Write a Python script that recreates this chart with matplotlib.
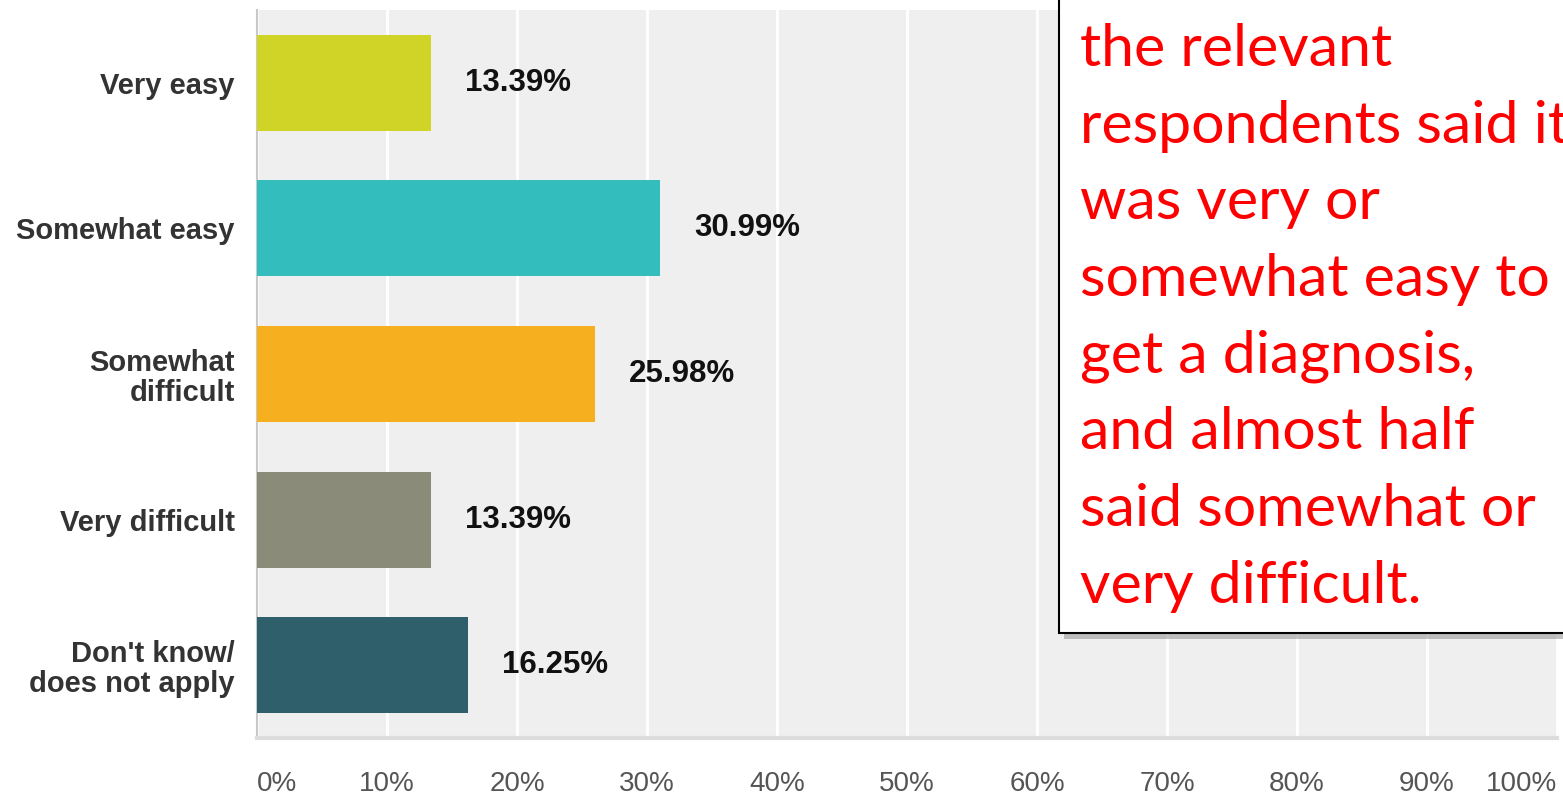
import matplotlib.pyplot as plt
from matplotlib.patches import Rectangle

# Survey answers (top to bottom)
categories = ['Very easy', 'Somewhat easy', 'Somewhat\ndifficult',
              'Very difficult', "Don't know/\ndoes not apply"]
values = [13.39, 30.99, 25.98, 13.39, 16.25]
colors = ['#cfd427', '#33bdbd', '#f6b01f', '#8b8b7a', '#2e5f6b']
tick_values = list(range(0, 101, 10))
tick_labels = [f'{t}%' for t in tick_values]
note_lines = ['the relevant', 'respondents said it', 'was very or',
              'somewhat easy to', 'get a diagnosis,', 'and almost half',
              'said somewhat or', 'very difficult.']

W, H = 1563, 796
fig = plt.figure(figsize=(W / 100, H / 100), dpi=100)
ax = fig.add_axes([257 / W, 1 - 738 / H, 1300 / W, 728 / H])
ax.set_facecolor('#efefef')

ypos = list(range(len(categories)))
ax.barh(ypos, values, height=0.66, color=colors, zorder=3)
ax.set_xlim(0, 100)
ax.set_ylim(len(categories) - 0.5, -0.5)

# value labels
for y, v in zip(ypos, values):
    ax.annotate(f'{v:.2f}%', (v, y), xytext=(34 * 0.72, 0), textcoords='offset points',
                ha='left', va='center', fontsize=22.5, fontweight='bold',
                family='Liberation Sans', color='#111111', zorder=4)

# gridlines
ax.set_xticks(tick_values)
ax.grid(axis='x', color='white', linewidth=2, zorder=1)
ax.tick_params(axis='both', length=0)

ax.set_xticklabels(tick_labels, fontsize=20, family='Liberation Sans', color='#555555')
ax.tick_params(axis='x', pad=24)
xt = ax.get_xticklabels()
xt[0].set_ha('left')
xt[-1].set_ha('right')

ax.set_yticks(ypos)
ax.set_yticklabels(categories, fontsize=21, fontweight='bold', family='Liberation Sans',
                   color='#333333', linespacing=1.1)
ax.tick_params(axis='y', pad=16)

for s in ['top', 'right']:
    ax.spines[s].set_visible(False)
ax.spines['left'].set_color('#c8c8c8')
ax.spines['left'].set_linewidth(1.5)
ax.spines['bottom'].set_color('#dcdcdc')
ax.spines['bottom'].set_linewidth(3)

# note box with shadow
bx, by = 1059 / W, 1 - 633 / H
fig.patches.append(Rectangle((bx + 5 / W, by - 6 / H), 1, 1, transform=fig.transFigure,
                             facecolor='#9a9a9a', edgecolor='none', alpha=0.6, zorder=5))
fig.patches.append(Rectangle((bx, by), 1, 1, transform=fig.transFigure,
                             facecolor='white', edgecolor='black', linewidth=1.5, zorder=6))
for i, line in enumerate(note_lines):
    fig.text(1080 / W, 1 - (66 + i * 76.7) / H, line, color='#ff0000', fontsize=42.5,
             family='Lato', ha='left', va='baseline', zorder=7)

fig.savefig('out.png', dpi=100)
